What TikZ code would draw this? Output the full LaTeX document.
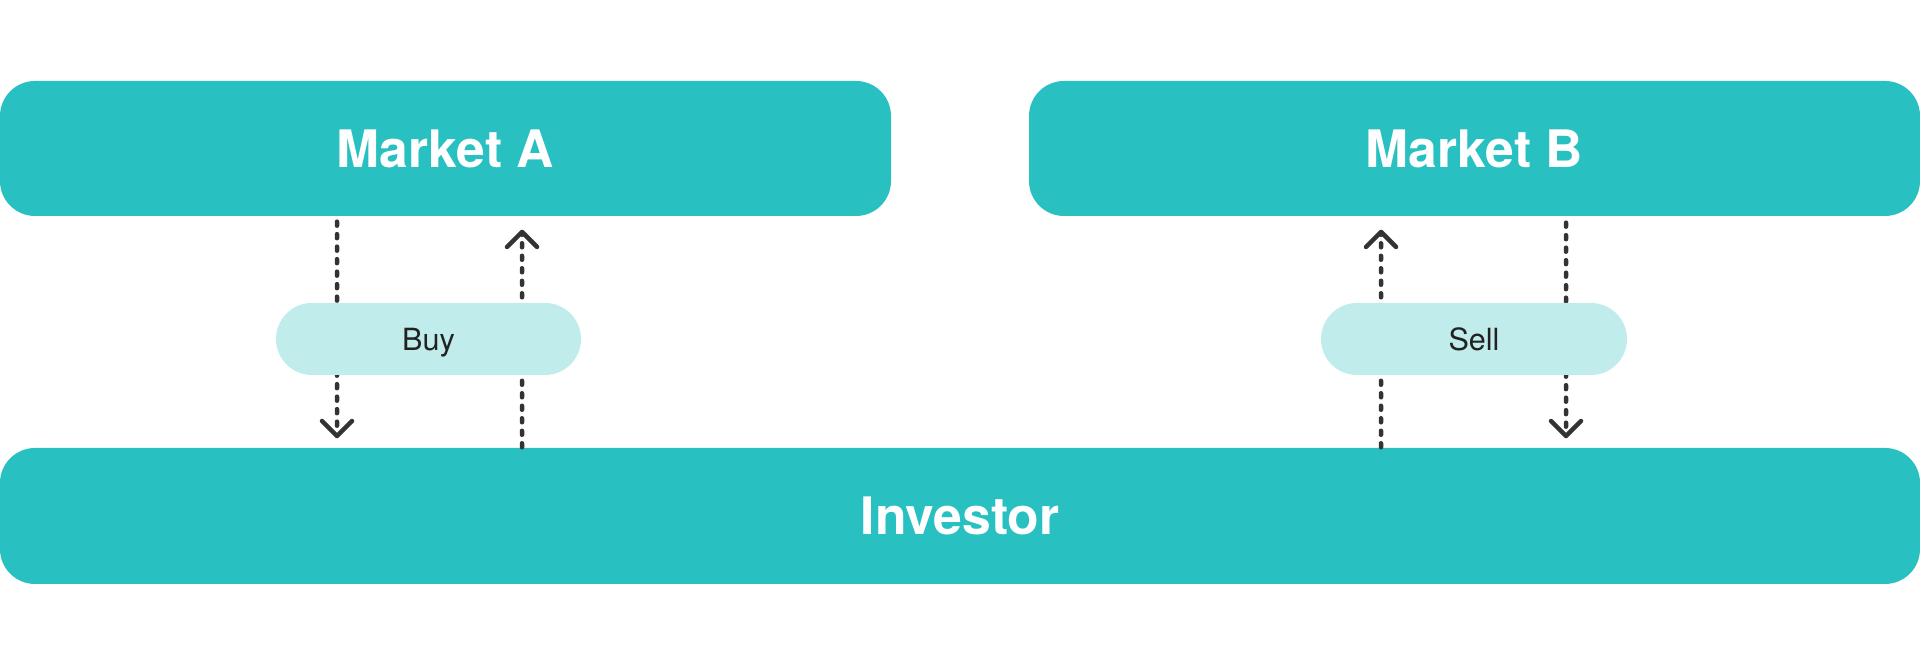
\documentclass[tikz,border=0pt]{standalone}
\usepackage{fontspec}
\setmainfont{TeX Gyre Heros}
\usetikzlibrary{arrows.meta}
\definecolor{tealbox}{RGB}{41,192,194}
\definecolor{paletil}{RGB}{192,236,236}
\definecolor{flowgray}{RGB}{51,51,51}
\definecolor{inkdark}{RGB}{34,34,34}
\tikzset{
  market/.style={fill=tealbox, rounded corners=0.35cm, inner sep=0pt,
    minimum width=8.91cm, minimum height=1.35cm, text=white,
    font=\fontsize{14.7}{17}\selectfont\bfseries},
  pill/.style={fill=paletil, rounded corners=0.36cm, inner sep=0pt,
    minimum width=3.05cm, minimum height=0.72cm, text=inkdark,
    text height=6.3pt, text depth=0pt,
    font=\fontsize{8.7}{10}\selectfont},
  flow/.style={draw=flowgray, line width=0.045cm, line cap=round,
    dash pattern=on 0.04cm off 0.085cm,
    -{Straight Barb[length=1.5mm, width=3mm, line cap=round, line join=round]}},
}
\begin{document}
\begin{tikzpicture}
            \useasboundingbox (0,0) rectangle (19.2,6.65);

            % Boxes
            \node [market] (mA) at (4.455,5.165) {Market A};
            \node [market] (mB) at (14.745,5.165) {Market B};
            \node [market, minimum width=19.2cm, minimum height=1.36cm] (inv) at (9.6,1.49) {Investor};

            % Flows of market A
            \draw [flow] ([xshift=-1.085cm,yshift=-0.05cm]mA.south) -- ([xshift=-6.23cm,yshift=0.09cm]inv.north);
            \draw [flow] ([xshift=-4.38cm]inv.north) -- ([xshift=0.765cm,yshift=-0.13cm]mA.south);

            % Flows of market B
            \draw [flow] ([xshift=4.21cm]inv.north) -- ([xshift=-0.935cm,yshift=-0.13cm]mB.south);
            \draw [flow] ([xshift=0.915cm,yshift=-0.06cm]mB.south) -- ([xshift=6.06cm,yshift=0.09cm]inv.north);

            % Labels over the flows
            \node [pill] (buy) at (4.285,3.26) {Buy};
            \node [pill, minimum width=3.06cm] (sell) at (14.74,3.26) {Sell};
\end{tikzpicture}
\end{document}
